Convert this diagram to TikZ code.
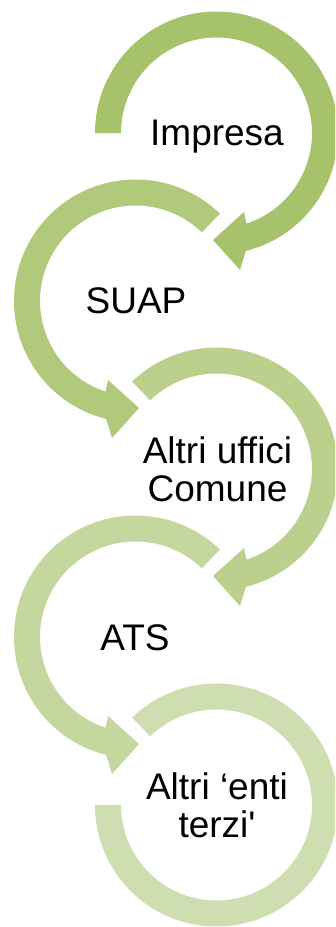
\documentclass[tikz,border=0pt]{standalone}
\usepackage{fontspec}
\setmainfont{Liberation Sans}[Ligatures=TeXOff]
\definecolor{ga}{RGB}{166,194,107}
\definecolor{gb}{RGB}{176,201,123}
\definecolor{gc}{RGB}{186,208,140}
\definecolor{gd}{RGB}{196,215,158}
\definecolor{ge}{RGB}{206,222,176}
\tikzset{lbl/.style={font=\fontsize{37}{38}\selectfont, align=center, inner sep=0pt, anchor=base}}
% clockwise ring with arrowhead: cx, cy, start angle, colour
\newcommand\cwring[4]{%
  \begin{scope}[shift={(#1,#2)}]
    \fill[#4] (#3:121.5pt) arc[start angle=#3, end angle=-76, radius=121.5pt]
      -- (23.5,-137) -- (-3.5,-107) -- (27.5,-79)
      -- (-71.7:95.5pt) arc[start angle=-71.7, end angle=#3, radius=95.5pt] -- cycle;
  \end{scope}}
% counter-clockwise ring with arrowhead
\newcommand\ccwring[4]{%
  \begin{scope}[shift={(#1,#2)}]
    \fill[#4] (#3:121.5pt) arc[start angle=#3, end angle=256, radius=121.5pt]
      -- (-23.5,-137) -- (3.5,-107) -- (-27.5,-79)
      -- (251.7:95.5pt) arc[start angle=251.7, end angle=#3, radius=95.5pt] -- cycle;
  \end{scope}}
\begin{document}
\begin{tikzpicture}[x=1pt,y=1pt]
  \useasboundingbox (0,0) rectangle (335,-927);
  \clip (0,0) rectangle (335,-927);
  \cwring{216.5}{-133}{180}{ga}
  \ccwring{135.5}{-301}{46}{gb}
  \cwring{216.5}{-469}{134}{gc}
  \ccwring{135.5}{-637}{46}{gd}
  \begin{scope}[shift={(216.5,-805)}]
    \fill[ge] (134:121.5pt) arc[start angle=134, end angle=-180, radius=121.5pt]
      -- (180:95.5pt) arc[start angle=-180, end angle=134, radius=95.5pt] -- cycle;
  \end{scope}
  \node[lbl] (impresa) at (217,-145.5) {Impresa};
  \node[lbl] (suap) at (136,-313.5) {SUAP};
  \node[lbl] (comune) at (217.5,-501.5) {Altri uffici\\Comune};
  \node[lbl] (ats) at (135,-650.5) {ATS};
  \node[lbl] (enti) at (217,-837) {Altri ‘enti\\terzi'};
\end{tikzpicture}
\end{document}
